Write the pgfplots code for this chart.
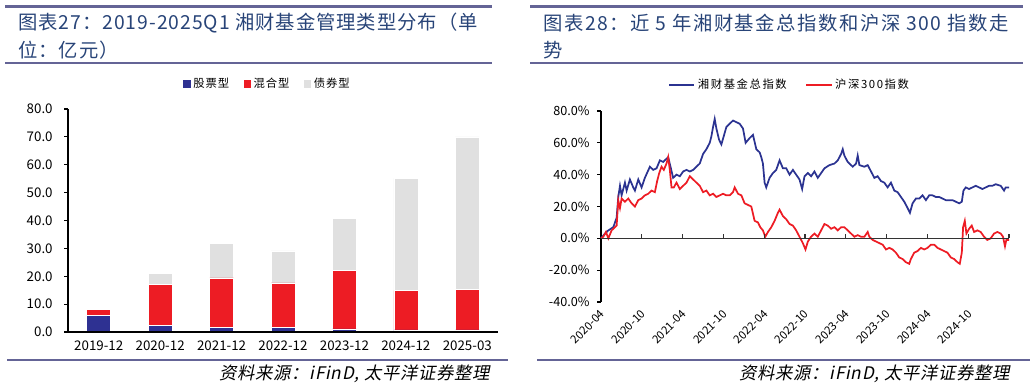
\documentclass[border=0pt]{standalone}
\usepackage{pgfplots}
\pgfplotsset{compat=1.18}
\usepackage{fontspec}
\setmainfont{Noto Sans CJK SC}
\newfontfamily\cjk{Noto Sans CJK SC}
\newfontfamily\cjkt[LetterSpace=8]{Noto Sans CJK SC}
\newfontfamily\cjktl[LetterSpace=5]{Noto Sans CJK SC}
\newfontfamily\cjkls[LetterSpace=8]{Noto Sans CJK SC}
\newfontfamily\cjklsb[LetterSpace=14]{Noto Sans CJK SC}
\newfontfamily\srcfont[FakeSlant=0.2,LetterSpace=4]{Noto Sans CJK SC}
\definecolor{barblue}{RGB}{46,49,146}
\definecolor{barred}{RGB}{237,28,36}
\definecolor{bargrey}{RGB}{224,224,224}
\definecolor{titleblue}{RGB}{40,68,120}
\definecolor{rulec}{RGB}{100,100,150}
\definecolor{lineblue}{RGB}{43,51,145}
\definecolor{linered}{RGB}{237,28,36}
\begin{document}
\begin{tikzpicture}
\path[use as bounding box] (0pt,0pt) rectangle (773.25pt,-293.25pt);
\begin{scope}[x=0.75pt,y=-0.75pt]
 \draw[rulec, line width=2pt] (5,6.5) -- (492,6.5);
 \draw[rulec, line width=0.9pt] (5,63) -- (492,63);
 \draw[rulec, line width=2pt] (530,6.5) -- (1023,6.5);
 \draw[rulec, line width=0.9pt] (530,63) -- (1023,63);
 \node[anchor=west, text=titleblue, font=\cjktl\fontsize{14.5}{14.5}\selectfont, inner sep=0] at (18,23) {图表27：2019-2025Q1 湘财基金管理类型分布（单};
 \node[anchor=west, text=titleblue, font=\cjktl\fontsize{14.5}{14.5}\selectfont, inner sep=0] at (18,50) {位：亿元）};
 \node[anchor=west, text=titleblue, font=\cjkt\fontsize{14.5}{14.5}\selectfont, inner sep=0] at (543,23) {图表28：近 5 年湘财基金总指数和沪深 300 指数走};
 \node[anchor=west, text=titleblue, font=\cjkt\fontsize{14.5}{14.5}\selectfont, inner sep=0] at (543,50) {势};
 \draw[rulec, line width=0.9pt] (7,360) -- (508,360);
 \draw[rulec, line width=0.9pt] (537,360) -- (1030,360);
 \node[anchor=east, font=\srcfont\fontsize{13}{13}\selectfont, inner sep=0] at (490,374) {资料来源：iFinD, 太平洋证券整理};
 \node[anchor=east, font=\srcfont\fontsize{13}{13}\selectfont, inner sep=0] at (1010,374) {资料来源：iFinD, 太平洋证券整理};
\end{scope}

\begin{axis}[
  at={(51pt,-249pt)}, anchor=south west, scale only axis,
  width=322.5pt, height=167.25pt,
  ybar stacked, bar width=18pt,
  xmin=-0.5, xmax=6.5, ymin=0, ymax=80,
  axis on top,
  axis x line*=bottom, axis y line*=left,
  axis line style={black, line width=0.8pt},
  xtick={0,...,6},
  xticklabels={2019-12,2020-12,2021-12,2022-12,2023-12,2024-12,2025-03},
  xtick style={draw=none},
  ytick={0,10,...,80},
  tick align=outside, major tick length=3pt,
  ytick style={black, line width=0.8pt},
  /pgf/number format/assume math mode=true,
  yticklabel style={/pgf/number format/fixed, /pgf/number format/fixed zerofill, /pgf/number format/precision=1, xshift=-5pt},
  tick label style={font=\cjk\fontsize{10}{10}\selectfont, text=black},
  legend style={at={(0.465,1.112)}, anchor=center, draw=none, fill=none, font=\cjkls\fontsize{8.5}{9}\selectfont, legend columns=3, /tikz/every even column/.append style={column sep=9pt}},
  legend image code/.code={\path[#1,draw=none] (0pt,-2.7pt) rectangle (5.4pt,2.7pt);},
  clip=false,
]
\addplot[fill=barblue, draw=white, line width=0.4pt] coordinates {(0,6.0) (1,2.4) (2,1.6) (3,1.6) (4,1.1) (5,0.8) (6,0.8)};
\addplot[fill=barred, draw=white, line width=0.4pt] coordinates {(0,2.0) (1,14.7) (2,17.8) (3,16.0) (4,20.9) (5,14.0) (6,14.4)};
\addplot[fill=bargrey, draw=white, line width=0.4pt] coordinates {(0,0.0) (1,3.8) (2,12.3) (3,11.5) (4,18.7) (5,40.3) (6,54.8)};
\legend{股票型,混合型,债券型}
\end{axis}

\begin{axis}[
  at={(450.75pt,-226.5pt)}, anchor=south west, scale only axis,
  width=306pt, height=143.25pt,
  xmin=0, xmax=60, ymin=-40, ymax=80,
  axis x line*=bottom, axis y line*=left,
  x axis line style={draw=none},
  y axis line style={black, line width=0.8pt},
  xtick={0,6,...,60},
  xticklabels={2020-04,2020-10,2021-04,2021-10,2022-04,2022-10,2023-04,2023-10,2024-04,2024-10,{}},
  xtick style={draw=none},
  ytick={-40,-20,...,80},
  tick align=outside, major tick length=3pt,
  ytick style={black, line width=0.8pt},
  /pgf/number format/assume math mode=true,
  yticklabel={\pgfmathprintnumber[fixed,fixed zerofill,precision=1]{\tick}\%},
  tick label style={font=\cjk\fontsize{9.5}{10}\selectfont, text=black},
  xticklabel style={font=\cjk\fontsize{8.5}{9}\selectfont, rotate=45, anchor=east, yshift=-4pt, xshift=1pt},
  yticklabel style={xshift=-2pt},
  legend style={at={(0.463,1.136)}, anchor=center, draw=none, fill=none, font=\cjklsb\fontsize{8.5}{9}\selectfont, legend columns=2, /tikz/every even column/.append style={column sep=12pt}},
  legend image code/.code={\draw[#1] (0pt,0pt) -- (19pt,0pt);},
  clip=false,
]
\addplot[lineblue, line width=1.3pt] coordinates {
(0,0)(0.59,3)(1.08,5)(1.81,7)(2.30,13)(2.54,26)(2.79,33)(3.03,27)(3.52,35)(3.77,30)(4.25,37)(4.74,32)(4.99,30)(5.48,37)(5.97,32)(6.45,38)(7.19,45)(7.68,43)(8.17,44)(8.66,49)(9.14,48)(9.63,50)(9.88,51)(10.22,45)(10.61,38)(11.10,40)(11.59,39)(12.08,42)(12.57,43)(13.06,42)(13.55,43)(14.03,45)(14.52,47)(15.01,53)(15.50,56)(15.99,60)(16.23,64)(16.48,70)(16.72,75)(16.97,69)(17.36,62)(17.70,59)(18.04,64)(18.44,70)(18.92,72)(19.41,74)(19.90,73)(20.39,72)(20.88,69)(21.27,60)(21.86,63)(22.35,65)(22.84,56)(23.33,54)(23.57,51)(23.81,47)(24.06,35)(24.30,32)(24.79,38)(25.28,41)(25.77,43)(26.26,49)(26.75,44)(27.24,44)(27.73,40)(28.22,43)(28.70,40)(29.19,37)(29.58,31)(29.93,39)(30.42,41)(30.90,39)(31.39,42)(31.88,38)(32.37,41)(32.86,44)(33.59,46)(34.33,47)(34.82,49)(35.31,53)(35.55,56)(35.79,52)(36.28,48)(37.02,45)(37.51,47)(37.75,52)(38.00,46)(38.73,45)(39.22,46)(39.71,42)(40.20,38)(40.68,39)(41.17,36)(41.66,35)(42.15,32)(42.64,35)(43.13,30)(43.62,29)(44.11,26)(44.60,23)(45.09,19)(45.43,16)(45.82,22)(46.31,25)(46.80,25)(47.29,27)(47.78,24)(48.26,27)(48.75,27)(49.24,26)(49.73,26)(50.22,25)(50.71,24)(51.20,24)(51.69,24)(52.18,23)(52.67,22)(53.06,23)(53.30,30)(53.64,32)(54.13,31)(54.62,32)(55.11,33)(55.60,32)(56.09,31)(56.58,32)(57.07,33)(57.56,33)(58.04,34)(58.78,33)(59.27,30)(59.51,32)(60.00,32)
};
\addplot[linered, line width=1.3pt] coordinates {
(0,0)(0.34,1)(0.73,4)(1.08,0)(1.56,5)(2.05,7)(2.30,8)(2.54,24)(2.79,19)(3.03,25)(3.52,23)(4.01,25)(4.50,22)(4.99,20)(5.48,24)(5.97,25)(6.45,27)(6.94,28)(7.43,30)(7.92,29)(8.26,36)(8.56,41)(8.90,45)(9.24,43)(9.63,47)(9.88,51)(10.12,43)(10.37,32)(10.71,32)(11.10,35)(11.59,31)(12.08,33)(12.57,35)(13.06,39)(13.55,37)(14.03,35)(14.52,33)(15.01,29)(15.50,30)(15.99,27)(16.48,28)(16.97,26)(17.46,27)(17.95,28)(18.44,27)(18.92,27)(19.41,29)(19.66,32)(20.15,28)(20.64,27)(21.12,22)(21.61,21)(22.10,20)(22.59,11)(23.08,10)(23.42,7)(23.81,5)(24.16,1)(24.55,4)(25.04,7)(25.53,11)(26.01,16)(26.26,18)(26.75,14)(27.24,12)(27.73,9)(28.22,8)(28.70,5)(29.19,1)(29.68,-3)(30.07,-7)(30.42,-2)(30.90,1)(31.39,3)(31.88,1)(32.37,5)(32.86,9)(33.35,8)(33.84,6)(34.33,7)(34.82,5)(35.31,7)(35.79,7)(36.28,5)(36.77,3)(37.26,1)(37.75,2)(38.24,1)(38.73,1)(39.22,4)(39.46,1)(39.95,-1)(40.44,-2)(40.93,-3)(41.42,-4)(41.91,-7)(42.40,-6)(42.89,-7)(43.37,-9)(43.86,-12)(44.35,-13)(44.84,-15)(45.33,-16)(45.57,-13)(46.06,-9)(46.55,-8)(47.04,-6)(47.53,-7)(48.02,-6)(48.51,-4)(49.00,-4)(49.49,-6)(49.98,-7)(50.46,-8)(50.95,-9)(51.44,-12)(51.93,-13)(52.42,-15)(52.76,-16)(53.06,-9)(53.25,7)(53.50,11)(53.74,3)(54.13,6)(54.52,8)(54.87,4)(55.35,5)(55.84,4)(56.33,1)(56.82,-1)(57.31,0)(57.80,3)(58.29,4)(58.78,3)(59.12,1)(59.41,-5)(59.61,-1)(60.00,-1)
};
\legend{湘财基金总指数,沪深300指数}
\draw[black!80, line width=0.8pt] (axis cs:0,0) -- (axis cs:60,0);
\pgfplotsinvokeforeach{6,12,...,60}{\draw[black!80, line width=0.8pt] (axis cs:#1,0) -- ++(0pt,3pt);}
\end{axis}
\end{tikzpicture}
\end{document}
